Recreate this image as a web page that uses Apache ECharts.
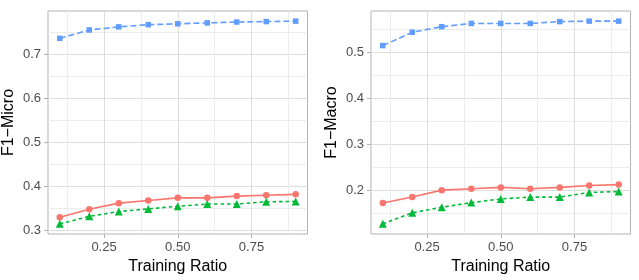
<!DOCTYPE html>
<html><head><meta charset="utf-8">
<script src="https://cdn.jsdelivr.net/npm/echarts@6/dist/echarts.min.js"></script>
<style>html,body{margin:0;padding:0;background:#fff}#c{width:639px;height:280px}</style>
</head><body><div id="c"></div>
<script>
// Data
const ratios = [0.1, 0.2, 0.3, 0.4, 0.5, 0.6, 0.7, 0.8, 0.9];
const microRed   = [0.330, 0.348, 0.362, 0.368, 0.374, 0.374, 0.378, 0.380, 0.382];
const microGreen = [0.315, 0.332, 0.343, 0.349, 0.355, 0.360, 0.360, 0.365, 0.366];
const microBlue  = [0.736, 0.755, 0.762, 0.767, 0.769, 0.771, 0.773, 0.774, 0.775];
const macroRed   = [0.173, 0.186, 0.201, 0.204, 0.207, 0.204, 0.207, 0.211, 0.213];
const macroGreen = [0.128, 0.152, 0.164, 0.174, 0.182, 0.186, 0.186, 0.196, 0.198];
const macroBlue  = [0.514, 0.543, 0.555, 0.562, 0.562, 0.562, 0.566, 0.567, 0.567];
const xTicks = [0.25, 0.50, 0.75];
const xMinorTicks = [0.125, 0.375, 0.625, 0.875];
const microYTicks = [0.3, 0.4, 0.5, 0.6, 0.7];
const microYMinor = [0.35, 0.45, 0.55, 0.65, 0.75];
const macroYTicks = [0.2, 0.3, 0.4, 0.5];
const macroYMinor = [0.15, 0.25, 0.35, 0.45, 0.55];
const xTitle = 'Training Ratio';
const yTitles = ['F1\u2212Micro', 'F1\u2212Macro'];

const FONT = 'Liberation Sans';
const RED = '#F8766D', GREEN = '#00BA38', BLUE = '#619CFF';
const MAJOR = '#dedede', MINOR = '#ececec', BORDER = '#b3b3b3';

function pairs(ys) { return ratios.map((x, i) => [x, ys[i]]); }

function range(arrs) {
  const all = [].concat(...arrs);
  const mn = Math.min(...all), mx = Math.max(...all);
  const pad = (mx - mn) * 0.05;
  return [mn - pad, mx + pad];
}
const xr = [0.1 - 0.04, 0.9 + 0.04];
const microR = range([microRed, microGreen, microBlue]);
const macroR = range([macroRed, macroGreen, macroBlue]);

function xMain(g) {
  return {
    type: 'value', gridIndex: g, min: xr[0], max: xr[1], position: 'bottom',
    name: xTitle, nameLocation: 'middle', nameGap: 23,
    nameTextStyle: { fontFamily: FONT, fontSize: 16, color: '#000' },
    axisLine: { show: false },
    axisTick: { show: true, length: 4, lineStyle: { color: BORDER, width: 1 }, customValues: xTicks },
    axisLabel: { customValues: xTicks, formatter: v => v.toFixed(2), fontFamily: FONT, fontSize: 13, color: '#4d4d4d', margin: 7 },
    splitLine: { show: true, lineStyle: { color: MAJOR, width: 1 } }
  };
}
function xMinor(g) {
  return {
    type: 'value', gridIndex: g, min: xr[0], max: xr[1], position: 'top',
    axisLine: { show: false },
    axisTick: { show: false, customValues: xMinorTicks },
    axisLabel: { show: false, customValues: xMinorTicks },
    splitLine: { show: true, lineStyle: { color: MINOR, width: 1 } }
  };
}
function yMain(g, r, ticks, title) {
  return {
    type: 'value', gridIndex: g, min: r[0], max: r[1], position: 'left',
    name: title, nameLocation: 'middle', nameGap: 31, nameRotate: 90,
    nameTextStyle: { fontFamily: FONT, fontSize: 16, color: '#000' },
    axisLine: { show: false },
    axisTick: { show: true, length: 4, lineStyle: { color: BORDER, width: 1 }, customValues: ticks },
    axisLabel: { customValues: ticks, formatter: v => v.toFixed(1), fontFamily: FONT, fontSize: 13, color: '#4d4d4d', margin: 7 },
    splitLine: { show: true, lineStyle: { color: MAJOR, width: 1 } }
  };
}
function yMinor(g, r, ticks) {
  return {
    type: 'value', gridIndex: g, min: r[0], max: r[1], position: 'right',
    axisLine: { show: false },
    axisTick: { show: false, customValues: ticks },
    axisLabel: { show: false, customValues: ticks },
    splitLine: { show: true, lineStyle: { color: MINOR, width: 1 } }
  };
}

function ser(ys, xi, yi, color, symbol, size, dash) {
  return {
    type: 'line', xAxisIndex: xi, yAxisIndex: yi, data: pairs(ys),
    symbol: symbol, symbolSize: size, showSymbol: true,
    itemStyle: { color: color },
    lineStyle: { color: color, width: 1.6, type: dash },
    animation: false, silent: true, z: 5
  };
}

const chart = echarts.init(document.getElementById('c'), null, { renderer: 'canvas' });
chart.setOption({
  animation: false,
  textStyle: { fontFamily: FONT },
  grid: [
    { left: 48, right: 331.5, top: 11, bottom: 46, show: true, borderColor: BORDER, borderWidth: 1, backgroundColor: '#fff' },
    { left: 371, right: 8.5, top: 11, bottom: 46, show: true, borderColor: BORDER, borderWidth: 1, backgroundColor: '#fff' }
  ],
  xAxis: [xMain(0), xMinor(0), xMain(1), xMinor(1)],
  yAxis: [
    yMain(0, microR, microYTicks, yTitles[0]), yMinor(0, microR, microYMinor),
    yMain(1, macroR, macroYTicks, yTitles[1]), yMinor(1, macroR, macroYMinor)
  ],
  series: [
    ser(microRed, 0, 0, RED, 'circle', 6.5, 'solid'),
    ser(microGreen, 0, 0, GREEN, 'triangle', 8, [3.5, 3]),
    ser(microBlue, 0, 0, BLUE, 'rect', 5.5, [6, 3]),
    ser(macroRed, 2, 2, RED, 'circle', 6.5, 'solid'),
    ser(macroGreen, 2, 2, GREEN, 'triangle', 8, [3.5, 3]),
    ser(macroBlue, 2, 2, BLUE, 'rect', 5.5, [6, 3])
  ]
});
</script></body></html>
